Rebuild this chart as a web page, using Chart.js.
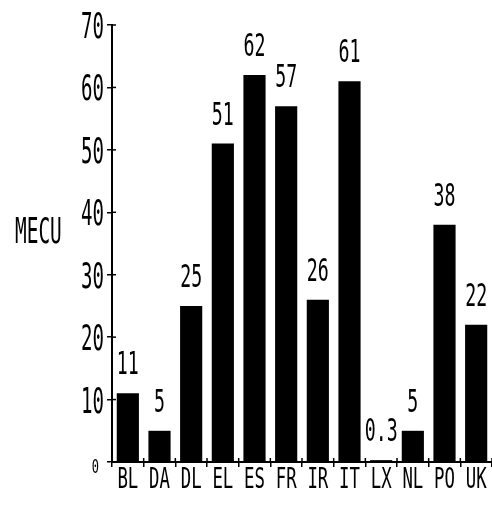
<!DOCTYPE html>
<html>
<head>
<meta charset="utf-8">
<script src="https://cdn.jsdelivr.net/npm/chart.js@4/dist/chart.umd.min.js"></script>
<style>
  html, body { margin: 0; padding: 0; background: #fff; }
  #wrap { width: 492px; height: 505px; }
</style>
</head>
<body>
<div id="wrap"><canvas id="chart" width="492" height="505"></canvas></div>
<script>
'use strict'

const countries = ['BL', 'DA', 'DL', 'EL', 'ES', 'FR', 'IR', 'IT', 'LX', 'NL', 'PO', 'UK'];
const mecu = [11, 5, 25, 51, 62, 57, 26, 61, 0.3, 5, 38, 22];
const valueLabels = ['11', '5', '25', '51', '62', '57', '26', '61', '0.3', '5', '38', '22'];
const yTitle = 'MECU';

// tall, narrow plotter-like text
function tallText(ctx, text, x, y, size, sx, align){
    ctx.save();
    ctx.translate(x, y);
    ctx.scale(sx, 1);
    ctx.font = size + 'px "DejaVu Sans Mono"';
    ctx.fillStyle = '#000';
    ctx.textAlign = align;
    ctx.textBaseline = 'alphabetic';
    ctx.fillText(text, 0, 0);
    ctx.restore();
}

const labelPlugin = {
    id: 'labels',
    afterDraw(chart){
        const ctx = chart.ctx;
        const x = chart.scales.x;
        const y = chart.scales.y;
        const area = chart.chartArea;

        // tick marks also cross to the inside of the axes
        ctx.save();
        ctx.strokeStyle = '#000';
        ctx.lineWidth = 1.5;
        y.ticks.forEach((t, i) => {
            const py = y.getPixelForTick(i);
            ctx.beginPath();
            ctx.moveTo(area.left, py);
            ctx.lineTo(area.left + 4, py);
            ctx.stroke();
        });
        for (let i = 0; i <= countries.length; i++) {
            const px = area.left + (area.right - area.left) * i / countries.length;
            ctx.beginPath();
            ctx.moveTo(px, area.bottom);
            ctx.lineTo(px, area.bottom - 4);
            ctx.stroke();
        }
        ctx.restore();

        // values above bars
        chart.getDatasetMeta(0).data.forEach((bar, i) => {
            tallText(ctx, valueLabels[i], bar.x, bar.y - 19, 32, 0.57, 'center');
        });

        // y tick labels
        y.ticks.forEach((t, i) => {
            const py = y.getPixelForTick(i);
            if (t.value === 0) {
                tallText(ctx, '0', 99, py + 11, 20, 0.6, 'right');
            } else {
                tallText(ctx, String(t.value), 104, py + 13, 36, 0.53, 'right');
            }
        });

        // category labels
        countries.forEach((c, i) => {
            tallText(ctx, c, x.getPixelForTick(i), 488, 28, 0.62, 'center');
        });

        tallText(ctx, yTitle, 15, 243, 36, 0.54, 'left');
    }
};

const ctx = document.getElementById('chart').getContext('2d');

const myChart = new Chart(ctx, {
    type: 'bar',
    data: {
        labels: countries,
        datasets: [{
            data: mecu,
            backgroundColor: '#000',
            borderWidth: 0,
            barPercentage: 0.7,
            categoryPercentage: 1
        }]
    },
    options: {
        responsive: false,
        animation: false,
        layout: { padding: { top: 25, right: 0, left: 0, bottom: 0 } },
        plugins: {
            legend: { display: false },
            tooltip: { enabled: false }
        },
        scales: {
            x: {
                offset: true,
                grid: {
                    offset: true,
                    drawOnChartArea: false,
                    drawTicks: true,
                    tickLength: 5,
                    color: '#000',
                    lineWidth: 1.5
                },
                border: { display: true, color: '#000', width: 2 },
                ticks: { display: false },
                afterFit(scale){ scale.height = 43; }
            },
            y: {
                min: 0,
                max: 70,
                ticks: { display: false, stepSize: 10 },
                grid: {
                    drawOnChartArea: false,
                    drawTicks: true,
                    tickLength: 5,
                    color: '#000',
                    lineWidth: 1.5
                },
                border: { display: true, color: '#000', width: 2 },
                afterFit(scale){ scale.width = 112; }
            }
        }
    },
    plugins: [labelPlugin]
});
</script>
</body>
</html>
